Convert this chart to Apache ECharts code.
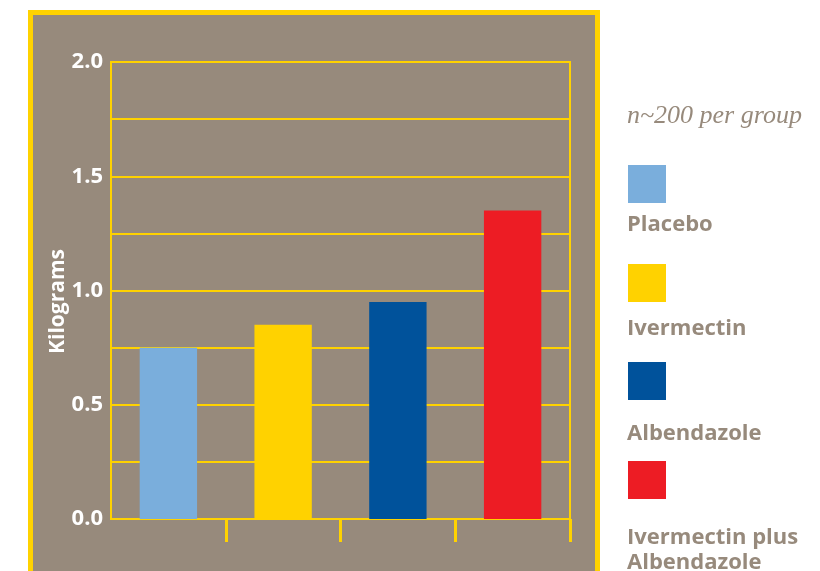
<!DOCTYPE html>
<html>
<head>
<meta charset="utf-8">
<script src="https://cdn.jsdelivr.net/npm/echarts@6/dist/echarts.min.js"></script>
<style>
  html, body { margin: 0; padding: 0; background: #ffffff; }
  #chart { width: 820px; height: 571px; }
</style>
</head>
<body>
<div id="chart"></div>
<script>
// Weight gain per treatment group (kg)
const groups = ['Placebo', 'Ivermectin', 'Albendazole', 'Ivermectin plus\nAlbendazole'];
const gainKg = [0.75, 0.85, 0.95, 1.35];
const groupColors = ['#7aaedc', '#ffd200', '#00529b', '#ed1c24'];
const yTickLabels = ['0.0', '0.5', '1.0', '1.5', '2.0'];

const YELLOW = '#ffd200';
const PANEL = '#978a7c';
const FONT = '"Open Sans", "Noto Sans", sans-serif';

const chart = echarts.init(document.getElementById('chart'), null, { renderer: 'canvas' });

// Legend: swatch above its label, stacked down the right side
const legendSwatchY = [165, 264, 362, 461];
const legendTextY = [223, 327, 432, 536];
const legendGraphics = [];
groups.forEach((g, i) => {
  legendGraphics.push({
    type: 'rect', left: 628, top: legendSwatchY[i],
    shape: { width: 38, height: 38 },
    style: { fill: groupColors[i] }
  });
  legendGraphics.push({
    type: 'text', left: 627, top: legendTextY[i] - 11,
    style: {
      text: g, fill: PANEL, font: 'bold 22px ' + FONT, lineHeight: 25
    }
  });
});

chart.setOption({
  animation: false,
  backgroundColor: '#ffffff',
  graphic: [
    {
      type: 'rect', z: -10, silent: true,
      shape: { x: 30.5, y: 12.5, width: 567, height: 620 },
      style: { fill: PANEL, stroke: YELLOW, lineWidth: 5 }
    },
    {
      type: 'text', left: 627, top: 103,
      style: {
        text: 'n~200 per group', fill: PANEL,
        font: 'italic 26px "Liberation Serif", "DejaVu Serif", serif'
      }
    }
  ].concat(legendGraphics),
  grid: {
    left: 111, right: 250, top: 62, bottom: 52,
    show: true, borderColor: YELLOW, borderWidth: 2,
    backgroundColor: 'transparent'
  },
  xAxis: {
    type: 'category',
    data: groups,
    axisLine: { lineStyle: { color: YELLOW, width: 2 } },
    axisTick: {
      show: true, length: 23,
      // no tick under the y axis; boundary ticks between and after the groups
      interval: function (index) { return index !== 0; },
      lineStyle: { color: YELLOW, width: 3 }
    },
    axisLabel: { show: false }
  },
  yAxis: {
    type: 'value',
    min: 0, max: 2, interval: 0.25,
    name: 'Kilograms',
    nameLocation: 'middle',
    nameGap: 42,
    nameMoveOverlap: false,
    nameRotate: 90,
    nameTextStyle: {
      color: '#ffffff', fontWeight: 'bold', fontSize: 21, fontFamily: FONT,
      padding: [0, 22, 0, 0]
    },
    axisLine: { show: true, lineStyle: { color: YELLOW, width: 2 } },
    axisTick: { show: false },
    splitLine: { lineStyle: { color: YELLOW, width: 2 } },
    axisLabel: {
      color: '#ffffff', fontWeight: 'bold', fontSize: 22, fontFamily: FONT, margin: 8,
      formatter: function (v) {
        const s = v.toFixed(1);
        return (Math.abs(v * 2 - Math.round(v * 2)) < 1e-9 && yTickLabels.indexOf(s) >= 0) ? s : '';
      }
    }
  },
  series: [{
    type: 'bar',
    barWidth: '50%',
    data: gainKg.map((v, i) => ({ value: v, itemStyle: { color: groupColors[i] } }))
  }]
});
</script>
</body>
</html>
